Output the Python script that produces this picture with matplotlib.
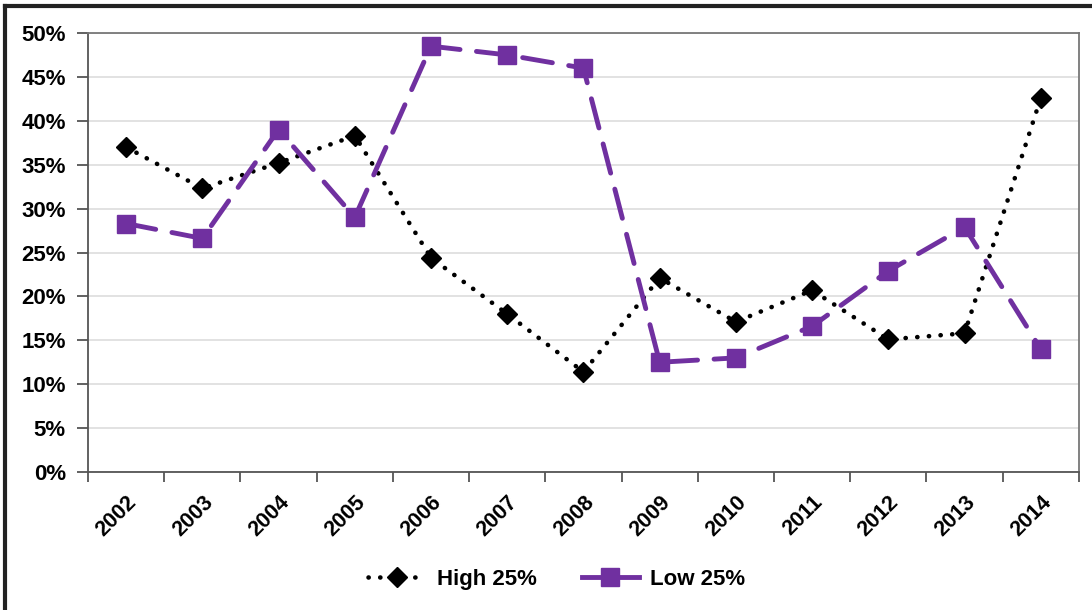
import matplotlib
matplotlib.use("Agg")
import matplotlib.pyplot as plt
from matplotlib.lines import Line2D
from matplotlib.ticker import FuncFormatter, FixedLocator

plt.rcParams["font.family"] = ["Liberation Sans", "DejaVu Sans"]
plt.rcParams["font.weight"] = "bold"

years = ["2002", "2003", "2004", "2005", "2006", "2007", "2008",
         "2009", "2010", "2011", "2012", "2013", "2014"]
high_25 = [37.0, 32.3, 35.2, 38.3, 24.4, 18.0, 11.4, 22.1, 17.1, 20.7, 15.1, 15.8, 42.6]
low_25 = [28.3, 26.6, 39.0, 29.0, 48.5, 47.5, 46.0, 12.5, 13.0, 16.6, 22.9, 27.9, 14.0]

PURPLE = "#7030A0"
DOTS = (0, (0.05, 2.5))
DASHES = (0, (6.2, 3.4))

fig = plt.figure(figsize=(10.92, 6.10), dpi=100)
ax = fig.add_axes([0.0806, 0.2262, 0.9074, 0.7197])

x = list(range(len(years)))
ax.plot(x, high_25, color="black", lw=3.3, linestyle=DOTS,
        dash_capstyle="round", marker="D", ms=10.5, mfc="black", mec="black",
        zorder=3)
ax.plot(x, low_25, color=PURPLE, lw=3.5, linestyle=DASHES,
        dash_capstyle="round", marker="s", ms=13, mfc=PURPLE, mec=PURPLE,
        zorder=4)

ax.set_xlim(-0.5, len(years) - 0.5)
ax.set_ylim(0, 50)
ax.set_yticks(range(0, 51, 5))
ax.yaxis.set_major_formatter(FuncFormatter(lambda v, _: f"{v:.0f}%"))
ax.grid(axis="y", color="#dddddd", lw=1.2)
ax.set_axisbelow(True)

ax.set_xticks(x)
ax.set_xticklabels(years, rotation=45, ha="right", rotation_mode="anchor")
ax.xaxis.set_minor_locator(FixedLocator([i - 0.5 for i in range(len(years) + 1)]))
ax.tick_params(axis="x", which="major", length=0, pad=14, labelsize=15.5)
ax.tick_params(axis="x", which="minor", length=7, width=1.3, color="#555555")
ax.tick_params(axis="y", length=8, width=1.3, color="#555555", labelsize=16, pad=8)
for lab in ax.get_xticklabels() + ax.get_yticklabels():
    lab.set_fontweight("bold")

for side in ["left", "bottom"]:
    ax.spines[side].set_color("#555555")
    ax.spines[side].set_linewidth(1.3)
for side in ["right", "top"]:
    ax.spines[side].set_color("#777777")
    ax.spines[side].set_linewidth(1.3)

handles = [
    Line2D([], [], color="black", lw=3.3, linestyle=DOTS,
           dash_capstyle="round", marker="D", ms=10.5, mfc="black", mec="black"),
    Line2D([], [], color=PURPLE, lw=3.5, marker="s", ms=13, mfc=PURPLE, mec=PURPLE),
]
fig.legend(handles, ["High 25%", "Low 25%"], loc="center", bbox_to_anchor=(0.51, 0.05),
           ncol=2, frameon=False, handlelength=2.6, handletextpad=0.5, columnspacing=2.0,
           prop={"weight": "bold", "size": 16})

# outer frame, left and top edges
fig.add_artist(Line2D([0.005, 0.005], [0, 0.99], transform=fig.transFigure,
                      color="#222222", lw=3))
fig.add_artist(Line2D([0.005, 1.0], [0.99, 0.99], transform=fig.transFigure,
                      color="#222222", lw=3))

fig.savefig("out.png", dpi=100)
